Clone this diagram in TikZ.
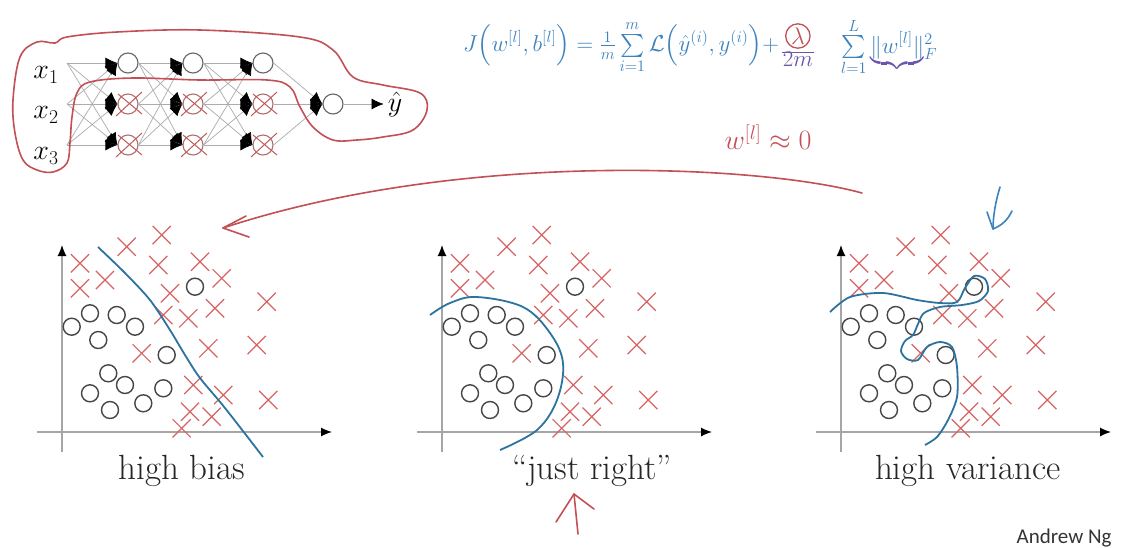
\RequirePackage{fix-cm}
\documentclass[tikz,border=0pt]{standalone}
\usepackage{amsmath,amssymb}
\usepackage{fontspec}
\newfontfamily\slidefont{Carlito}
\usepackage{tikz}
\definecolor{penBlue}{RGB}{60,130,190}
\definecolor{penRed}{RGB}{195,80,85}
\definecolor{penPurple}{RGB}{105,85,175}
\definecolor{crossRed}{RGB}{215,100,100}
\definecolor{curveBlue}{RGB}{45,115,160}
\definecolor{ringGray}{RGB}{70,70,70}
\usetikzlibrary{positioning,arrows.meta,shapes.misc}

\begin{document}
\begin{tikzpicture}[
  x=1pt,
  y=-1pt,
  >=Latex,
  every node/.style={align=center},
  neuron/.style={circle, draw=black!60, line width=1.1pt, minimum size=20pt, inner sep=0pt},
  dropped/.style={neuron, draw=crossRed!55!gray},
  wire/.style={-{Latex[length=12pt,width=11pt,color=black]}, draw=gray!65, line width=0.7pt},
  redx/.style={draw=crossRed!90!black, line width=1pt},
  inlabel/.style={font=\fontsize{28}{30}\selectfont, inner sep=1pt},
  axisline/.style={-{Latex[length=11pt,width=9pt,color=black]}, draw=gray!70, line width=1.2pt},
  xmark/.style={cross out, draw=crossRed, line width=1.2pt, minimum size=17pt, inner sep=0pt},
  omark/.style={circle, draw=ringGray, line width=1.4pt, minimum size=17pt, inner sep=0pt},
  boundary/.style={draw=curveBlue, line width=1.8pt},
  plotlabel/.style={font=\fontsize{35}{40}\selectfont, text=black!85},
  redpen/.style={draw=penRed, line width=1.6pt, line cap=round},
  bluepen/.style={draw=penBlue, line width=1.6pt, line cap=round},
  eqtext/.style={text=penBlue, font=\fontsize{23}{28}\selectfont, inner sep=1pt},
  lamring/.style={circle, draw=penRed, line width=1.3pt, inner sep=1pt, text=penRed, font=\fontsize{24}{28}\selectfont},
  credit/.style={font=\slidefont\fontsize{21}{24}\selectfont, text=black!80},
  dataset/.pic={
    \draw[axisline] (62,452) -- (62,245);
    \draw[axisline] (37,432) -- (332,432);
    \foreach \x/\y in {161.7/235, 126.7/246.7, 80/263.3, 158.3/265, 200/261.7, 80/288.3,
      105/280, 221.7/278.3, 170/293.3, 266.7/301.7, 163.3/315, 188.3/318.3, 215/308.3,
      141.7/353.3, 208.3/348.3, 256.7/345, 193.3/385, 223.3/395, 268.3/400, 190/411.7,
      211.7/416.7, 181.7/428.3}
      \node[xmark] at (\x,\y) {};
    \foreach \x/\y in {195/286.7, 90/313.3, 116.7/315, 71.7/326.7, 135/326.7, 98.3/340,
      166.7/355, 108.3/373.3, 125/385, 90/393.3, 163.3/388.3, 143.3/403.3, 110/410}
      \node[omark] at (\x,\y) {};
  }
]
\useasboundingbox[fill=white] (0,0) rectangle (1124,547);

\coordinate (i1) at (67,63);
\coordinate (i2) at (67,104);
\coordinate (i3) at (67,145);
\node[inlabel] (x1) at (46,75) {$x_1$};
\node[inlabel] (x2) at (46,115) {$x_2$};
\node[inlabel] (x3) at (46,156) {$x_3$};
\foreach \l/\xx in {1/128,2/193,3/263}
  \foreach \r/\yy/\kind in {1/63/neuron,2/104/dropped,3/145/dropped}
    \node[\kind] (h\l\r) at (\xx,\yy) {};
\node[neuron] (out) at (333,104) {};
\node[inlabel] (yhat) at (395,104) {$\hat{y}$};

\foreach \a in {1,2,3}
  \foreach \b in {1,2,3} {
    \draw[wire] (i\a) -- (h1\b.west);
    \draw[wire] (h1\a.east) -- (h2\b.west);
    \draw[wire] (h2\a.east) -- (h3\b.west);
  }
\foreach \a in {1,2,3}
  \draw[wire] (h3\a.east) -- (out.west);
\draw[wire, shorten >=3pt] (out) -- (yhat);
\foreach \l in {1,2,3}
  \foreach \r in {2,3}
    \draw[redx] ([shift={(-12,12)}]h\l\r.center) -- ([shift={(14,-12)}]h\l\r.center)
      ([shift={(-10,-10)}]h\l\r.center) -- ([shift={(14,10)}]h\l\r.center);

\draw[redpen] plot[smooth cycle, tension=0.6] coordinates {(13,100) (20,57) (37,42) (55,43)
  (67,37) (117,32) (200,30) (300,37) (333,50) (353,77) (383,85) (420,93) (427,110)
  (413,130) (383,137) (357,140) (333,140) (313,127) (300,107) (290,87) (267,80) (200,80)
  (133,78) (90,82) (77,93) (72,117) (70,143) (67,163) (53,172) (37,170) (23,160) (15,133)};

\node[eqtext, anchor=west] (costA) at (462,47)
  {$J\Bigl(w^{[l]},b^{[l]}\Bigr)=\tfrac{1}{m}\sum\limits_{i=1}^{m}\mathcal{L}\Bigl(\hat{y}^{(i)},y^{(i)}\Bigr)+$};
\node[lamring, right=5pt of costA.east, yshift=11pt] (lam) {$\lambda$};
\node[eqtext, text=penPurple, below=2pt of lam] (twom) {$2m$};
\draw[draw=penPurple, line width=1.2pt] ([yshift=-2]twom.north west) -- ([yshift=-2]twom.north east);
\node[eqtext, anchor=west] (costB) at ([xshift=60pt]costA.east)
  {$\sum\limits_{l=1}^{L}{\color{penPurple}\underbrace{\color{penBlue}\|w^{[l]}\|}}{}^{2}_{F}$};
\node[eqtext, text=penRed, font=\fontsize{28}{30}\selectfont] (wzero) at (768,137) {$w^{[l]}\approx 0$};

\coordinate (arcfrom) at (862,193);
\coordinate (arcto) at (223,228);
\draw[redpen] (arcfrom) .. controls (760,165) and (460,150) .. (arcto);
\draw[redpen] (arcto) -- +(23,-12) (arcto) -- +(26,9);

\pic at (0,0) {dataset};
\pic at (380,0) {dataset};
\pic at (779,0) {dataset};

\draw[boundary] plot[smooth, tension=0.5] coordinates {(98,247) (125,273) (150,300)
  (170,330) (185,355) (200,378) (225,408) (263,457)};
\draw[boundary] plot[smooth, tension=0.6] coordinates {(430,315) (450,303) (477,297)
  (523,307) (550,333) (563,363) (557,400) (537,430) (500,450)};
\draw[boundary] plot[smooth, tension=0.5] coordinates {(830,312) (850,297) (883,293)
  (917,300) (940,303) (957,302) (965,288) (974,276) (985,279) (988,291) (979,301)
  (962,305) (940,307) (924,313) (918,324) (913,335) (905,341) (901,351) (907,359)
  (918,360) (927,347) (940,342) (952,347) (957,367) (957,397) (948,420) (937,437) (925,445)};

\node[plotlabel, anchor=base] (lbias) at (182,479) {high bias};
\node[plotlabel, anchor=base] (lright) at (592,479) {“just right”};
\node[plotlabel, anchor=base] (lvar) at (968,479) {high variance};

\coordinate (dntop) at (1000,187);
\coordinate (dntip) at (993,229);
\draw[bluepen] (dntop) .. controls (996,200) and (993,215) .. (dntip);
\draw[bluepen] (dntip) -- +(-6,-17) (dntip) to[bend right=20] +(19,-18);

\coordinate (uptip) at (574,494);
\coordinate (upfoot) at (578,534);
\draw[redpen] (upfoot) -- (uptip);
\draw[redpen] (uptip) -- +(-18,28) (uptip) -- +(20,15);

\node[credit, anchor=base east] (credit) at (1115,543) {Andrew Ng};
\end{tikzpicture}
\end{document}
